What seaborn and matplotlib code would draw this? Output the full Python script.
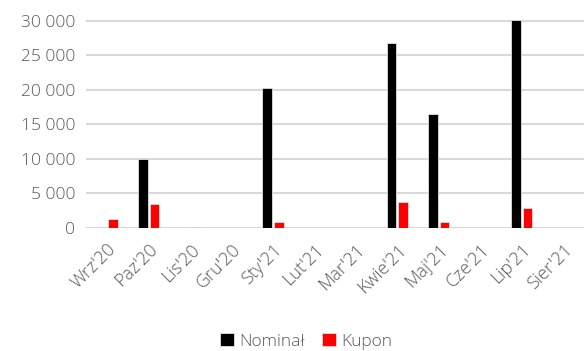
import matplotlib
matplotlib.use("Agg")
import matplotlib.pyplot as plt
import seaborn as sns
import pandas as pd
from matplotlib.ticker import FuncFormatter

months = ["Wrz'20", "Paz'20", "Lis'20", "Gru'20", "Sty'21", "Lut'21",
          "Mar'21", "Kwie'21", "Maj'21", "Cze'21", "Lip'21", "Sier'21"]
nominal = [0, 10000, 0, 0, 20250, 0, 0, 26800, 16500, 0, 30150, 0]
coupon = [1300, 3400, 120, 0, 900, 0, 0, 3750, 820, 0, 2900, 0]
series = ["Nominał", "Kupon"]
colors = ["#000000", "#ff0000"]

df = pd.DataFrame({
    "month": months * 2,
    "value": nominal + coupon,
    "series": [series[0]] * len(months) + [series[1]] * len(months),
})

sns.set_theme(style="white")
plt.rcParams["font.family"] = ["Open Sans", "DejaVu Sans"]
plt.rcParams["font.weight"] = 300
txt = "#595959"

fig = plt.figure(figsize=(5.84, 3.51), dpi=100)
ax = fig.add_axes([0.148, 0.351, 0.852, 0.596])

sns.barplot(data=df, x="month", y="value", hue="series", order=months,
            hue_order=series, palette=colors, saturation=1, width=0.56,
            gap=0.18, linewidth=0.6, edgecolor="#e0e0e0", ax=ax, legend=True)

ax.set_xlim(-0.5, len(months) - 0.5)
ax.set_ylim(0, 30300)
ax.set_yticks(range(0, 30001, 5000))
ax.yaxis.set_major_formatter(FuncFormatter(lambda v, _: f"{int(v):,}".replace(",", " ")))
ax.yaxis.grid(True, color="#d9d9d9", linewidth=1.5)
ax.set_axisbelow(True)
for s in ax.spines.values():
    s.set_visible(False)
ax.set_xlabel("")
ax.set_ylabel("")
ax.tick_params(axis="y", length=0, pad=8, labelsize=12.5, labelcolor=txt)
ax.tick_params(axis="x", length=0, pad=9, labelsize=13, labelcolor=txt)
for lab in ax.get_xticklabels():
    lab.set_rotation(45)
    lab.set_ha("right")
    lab.set_rotation_mode("anchor")

handles, labels = ax.get_legend_handles_labels()
ax.legend_.remove()
leg = fig.legend(handles, labels, loc="center", bbox_to_anchor=(0.524, 0.028),
                 ncol=2, frameon=False, fontsize=12.5, handlelength=0.8,
                 handleheight=0.8, handletextpad=0.3, columnspacing=1.0)
for t in leg.get_texts():
    t.set_color(txt)

fig.savefig("out.png", dpi=100)
